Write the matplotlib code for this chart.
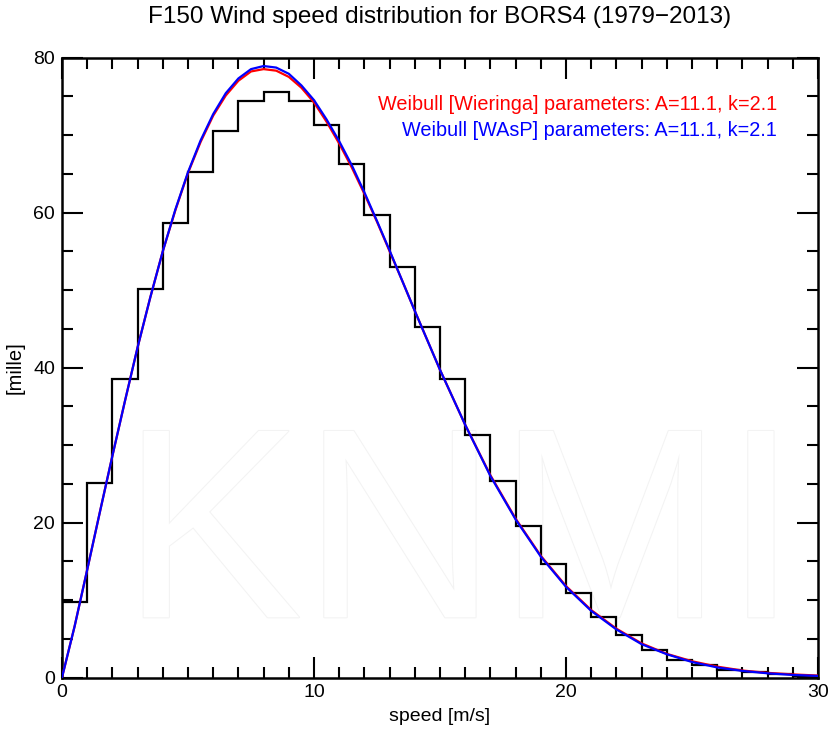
import matplotlib
matplotlib.use("Agg")
import matplotlib.pyplot as plt
from matplotlib.ticker import MultipleLocator
import matplotlib.patheffects as pe

plt.rcParams['font.family'] = ['Liberation Sans', 'DejaVu Sans']

# histogram: per-mille frequency per 1 m/s bin (0-1 ... 29-30)
bin_edges = list(range(0, 31))
hist_vals = [9.7, 25.1, 38.5, 50.1, 58.7, 65.2, 70.5, 74.4, 75.5, 74.4,
             71.3, 66.3, 59.7, 53.0, 45.2, 38.5, 31.3, 25.3, 19.6, 14.7,
             10.9, 7.8, 5.5, 3.6, 2.3, 1.6, 1.0, 0.7, 0.4, 0.2]

# fitted Weibull curves
curve_speed = [0, 0.5, 1, 1.5, 2, 2.5, 3, 3.5, 4, 4.5, 5, 5.5, 6, 6.5, 7, 7.5,
               8, 8.5, 9, 9.5, 10, 10.5, 11, 11.5, 12, 12.5, 13, 13.5, 14,
               15, 16, 17, 18, 19, 20, 21, 22, 23, 24, 25, 26, 27, 28, 29, 30]
wasp_vals = [0, 6.6, 13.9, 21.3, 28.6, 35.7, 42.6, 49.0, 55.0, 60.4, 65.2,
             69.3, 72.7, 75.4, 77.3, 78.5, 78.9, 78.7, 77.9, 76.4, 74.5,
             72.0, 69.2, 66.1, 62.6, 58.9, 55.1, 51.2, 47.3,
             39.7, 32.6, 26.0, 20.4, 15.6, 11.7, 8.6, 6.2, 4.3, 3.0, 2.0,
             1.3, 0.85, 0.54, 0.33, 0.2]
wieringa_vals = [0, 6.6, 13.9, 21.3, 28.6, 35.7, 42.6, 49.0, 55.0, 60.3, 65.1,
                 69.1, 72.5, 75.1, 77.0, 78.2, 78.5, 78.3, 77.5, 76.1, 74.2,
                 71.7, 68.9, 65.8, 62.4, 58.8, 55.0, 51.2, 47.3,
                 39.7, 32.6, 26.1, 20.5, 15.7, 11.8, 8.7, 6.3, 4.4, 3.05, 2.1,
                 1.4, 0.9, 0.6, 0.4, 0.25]

title = "F150 Wind speed distribution for BORS4 (1979\u22122013)"
label_wieringa = "Weibull [Wieringa] parameters: A=11.1, k=2.1"
label_wasp = "Weibull [WAsP] parameters: A=11.1, k=2.1"

fig = plt.figure(figsize=(8.30, 7.33), dpi=100)
ax = fig.add_axes([62/830, 1 - 677.5/733, (818-62)/830, (677.5-57.5)/733])

# faint watermark
ax.text(15.8, 16.8, "KNMI", fontsize=195, color='white', ha='center',
        va='center', zorder=0, clip_on=True,
        path_effects=[pe.withStroke(linewidth=1.5, foreground='#f3f3f3')])

ax.stairs(hist_vals, bin_edges, color='black', lw=1.6, zorder=2)
ax.plot(curve_speed, wieringa_vals, color='#ff0000', lw=1.6, zorder=3)
ax.plot(curve_speed, wasp_vals, color='#0000ff', lw=1.6, zorder=4)

ax.set_xlim(0, 30)
ax.set_ylim(0, 80)
ax.xaxis.set_major_locator(MultipleLocator(10))
ax.xaxis.set_minor_locator(MultipleLocator(1))
ax.yaxis.set_major_locator(MultipleLocator(20))
ax.yaxis.set_minor_locator(MultipleLocator(5))
ax.tick_params(which='both', direction='in', top=True, right=True,
               width=1.5, labelsize=14, pad=5)
ax.tick_params(which='major', length=15)
ax.tick_params(which='minor', length=8)
for s in ax.spines.values():
    s.set_linewidth(1.8)

ax.set_xlabel("speed [m/s]", fontsize=14, labelpad=5)
ax.set_ylabel("[mille]", fontsize=14.5, labelpad=6)

fig.text(0.5 * (62 + 818) / 830, 1 - 17/733, title, ha='center', va='center',
         fontsize=17.5)

ax.text(0.946, 0.925, label_wieringa, transform=ax.transAxes, ha='right',
        va='center', color='#ff0000', fontsize=14.3)
ax.text(0.946, 0.883, label_wasp, transform=ax.transAxes, ha='right',
        va='center', color='#0000ff', fontsize=14.3)

fig.savefig("out.png", dpi=100)
